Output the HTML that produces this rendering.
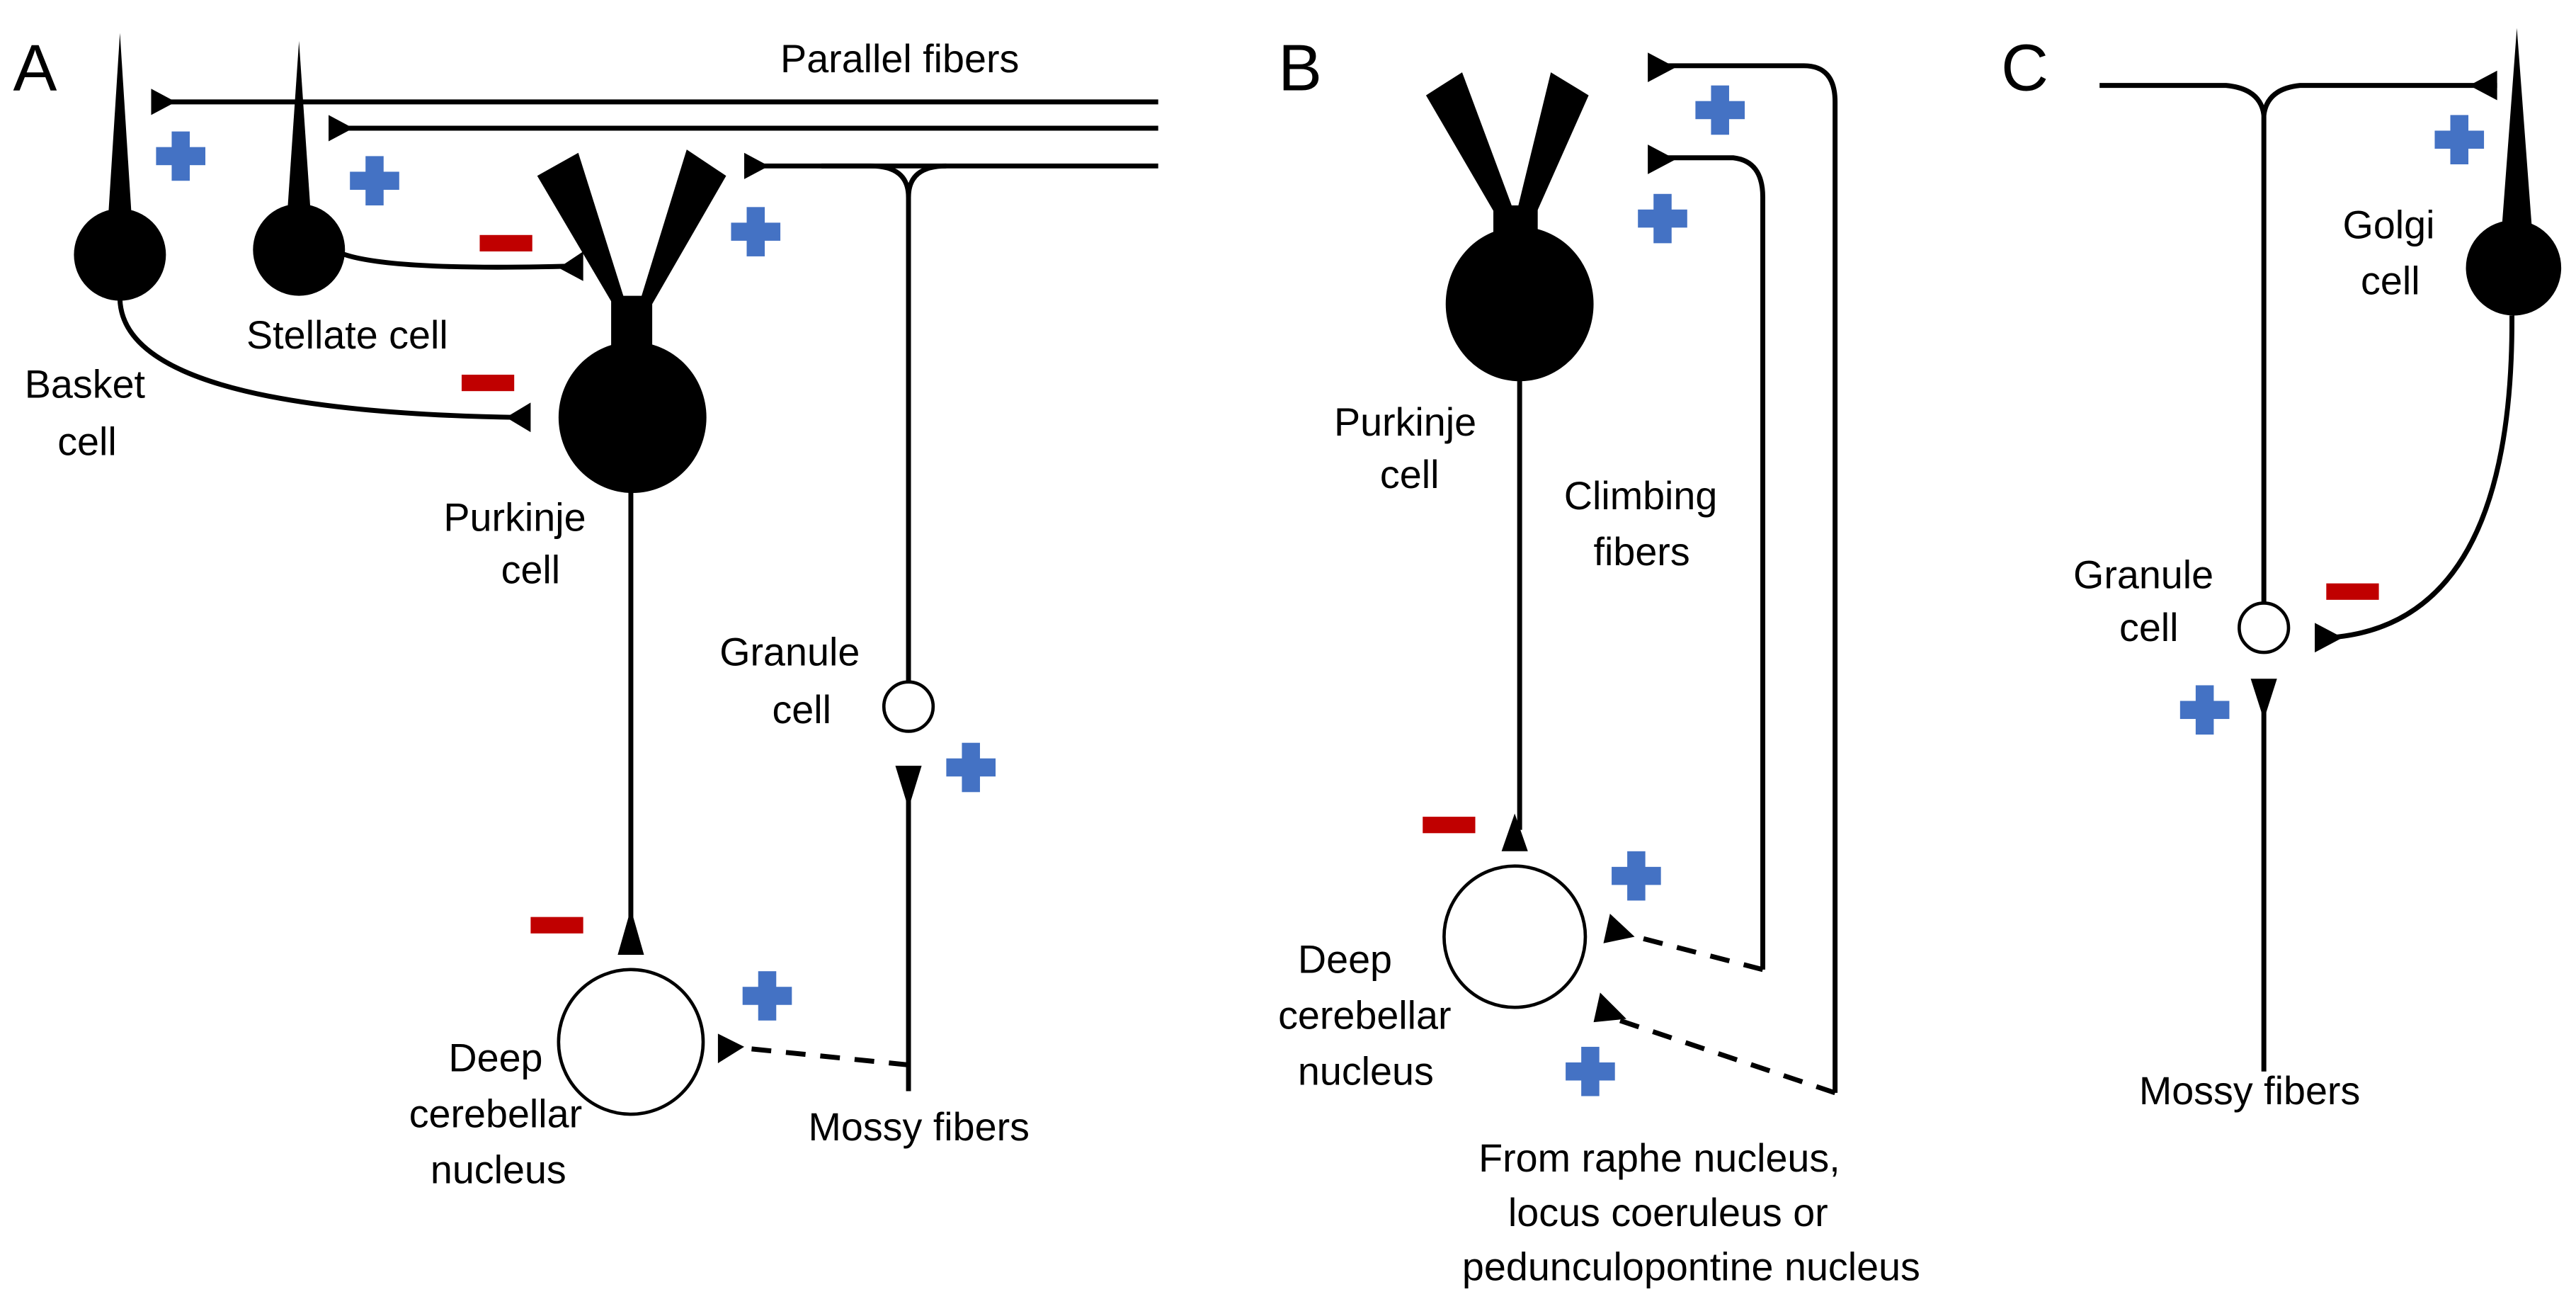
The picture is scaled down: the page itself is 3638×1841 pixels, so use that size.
<!DOCTYPE html>
<html><head><meta charset="utf-8"><style>
html,body{margin:0;padding:0;background:#fff;}
svg{display:block;}
text{font-family:"Liberation Sans",Arial,sans-serif;font-size:24px;fill:#000;}
.big{font-size:40px;}
</style></head><body>
<svg width="3638" height="1841" viewBox="0 0 1568 793.5" preserveAspectRatio="none" xmlns="http://www.w3.org/2000/svg">
<defs>
<g id="plus"><rect x="-15" y="-5.5" width="30" height="11" fill="#4472C4"/><rect x="-5.5" y="-15" width="11" height="30" fill="#4472C4"/></g>
<g id="minus"><rect x="-16" y="-5" width="32" height="10" fill="#C00000"/></g>
</defs>
<g fill="none" stroke="#000" stroke-width="3">
<!-- Panel A -->
<line x1="100" y1="62" x2="705" y2="62"/>
<line x1="208" y1="78" x2="705" y2="78"/>
<line x1="460" y1="101" x2="705" y2="101"/>
<path d="M500 101 H530 Q553 101 553 120 Q553 101 576 101"/>
<line x1="553" y1="118" x2="553" y2="415"/>
<path d="M205 153 Q230 165 345 162"/>
<path d="M73 182 Q75 250 315 254"/>
<line x1="384" y1="295" x2="384" y2="560"/>
<circle cx="384" cy="634" r="44" stroke-width="2"/>
<circle cx="553" cy="430" r="15" stroke-width="2"/>
<line x1="553" y1="475" x2="553" y2="664"/>
<path d="M553 648 L445 637" stroke-dasharray="12,9"/>
<!-- Panel B -->
<path d="M1010 40 H1098 Q1117 40 1117 62 V665"/>
<path d="M1010 96 H1055 Q1073 98 1073 120 V590"/>
<line x1="925" y1="225" x2="925" y2="505"/>
<circle cx="922" cy="570" r="43" stroke-width="2"/>
<path d="M1073 590 L988 568" stroke-dasharray="12,9"/>
<path d="M1117 665 L983 620" stroke-dasharray="12,9"/>
<!-- Panel C -->
<path d="M1278 52 H1355 Q1376 54 1378 70 Q1380 54 1400 52 H1520"/>
<line x1="1378" y1="68" x2="1378" y2="367"/>
<circle cx="1378" cy="382" r="15" stroke-width="2"/>
<path d="M1529 192 Q1530 380 1418 388"/>
<line x1="1378" y1="420" x2="1378" y2="652"/>
</g>
<g fill="#000">
<polygon points="73,20 66,130 80,130"/>
<circle cx="73" cy="155" r="28"/>
<polygon points="182,25 175,128 189,128"/>
<circle cx="182" cy="152" r="28"/>
<polygon points="327,107 352,93 381,185 373,185"/>
<polygon points="418,91 442,107 397,185 389,185"/>
<rect x="372" y="180" width="25" height="35"/>
<ellipse cx="385" cy="254" rx="45" ry="46"/>
<polygon points="92,54 92,70 107,62"/>
<polygon points="200,70 200,86 215,78"/>
<polygon points="453,93 453,109 468,101"/>
<polygon points="355,153 355,171 340,163"/>
<polygon points="323,245 323,263 308,254"/>
<polygon points="376,581 392,581 384,553"/>
<polygon points="545,466 561,466 553,492"/>
<polygon points="437,629 437,647 453,637"/>
<polygon points="868,58 890,44 922,130 910,130"/>
<polygon points="944,44 967,58 935,130 923,130"/>
<rect x="909" y="125" width="27" height="45"/>
<ellipse cx="925" cy="185" rx="45" ry="47"/>
<polygon points="1003,32 1003,50 1020,41"/>
<polygon points="1003,88 1003,106 1020,97"/>
<polygon points="914,518 930,518 922,495"/>
<polygon points="980,556 976,574 995,570"/>
<polygon points="974,604 970,622 990,620"/>
<polygon points="1532,17 1522,150 1542,150"/>
<circle cx="1530" cy="163" r="29"/>
<polygon points="1520,43 1520,61 1503,52"/>
<polygon points="1409,379 1409,397 1426,388"/>
<polygon points="1370,413 1386,413 1378,438"/>
</g>
<use href="#plus" x="110" y="95"/>
<use href="#plus" x="228" y="110"/>
<use href="#plus" x="460" y="141"/>
<use href="#plus" x="591" y="467"/>
<use href="#plus" x="467" y="606"/>
<use href="#minus" x="308" y="148"/>
<use href="#minus" x="297" y="233"/>
<use href="#minus" x="339" y="563"/>
<use href="#plus" x="1047" y="67"/>
<use href="#plus" x="1012" y="133"/>
<use href="#plus" x="996" y="533"/>
<use href="#plus" x="968" y="652"/>
<use href="#minus" x="882" y="502"/>
<use href="#plus" x="1497" y="85"/>
<use href="#plus" x="1342" y="432"/>
<use href="#minus" x="1432" y="360"/>
<text class="big" x="8" y="55">A</text>
<text class="big" x="778" y="55">B</text>
<text class="big" x="1218" y="55">C</text>
<text x="475" y="44">Parallel fibers</text>
<text x="150" y="212">Stellate cell</text>
<text x="15" y="242">Basket</text>
<text x="35" y="277">cell</text>
<text x="270" y="323">Purkinje</text>
<text x="305" y="355">cell</text>
<text x="438" y="405">Granule</text>
<text x="470" y="440">cell</text>
<text x="273" y="652">Deep</text>
<text x="249" y="686">cerebellar</text>
<text x="262" y="720">nucleus</text>
<text x="492" y="694">Mossy fibers</text>
<text x="812" y="265">Purkinje</text>
<text x="840" y="297">cell</text>
<text x="952" y="310">Climbing</text>
<text x="970" y="344">fibers</text>
<text x="790" y="592">Deep</text>
<text x="778" y="626">cerebellar</text>
<text x="790" y="660">nucleus</text>
<text x="900" y="713">From raphe nucleus,</text>
<text x="918" y="746">locus coeruleus or</text>
<text x="890" y="779">pedunculopontine nucleus</text>
<text x="1426" y="145">Golgi</text>
<text x="1437" y="179">cell</text>
<text x="1262" y="358">Granule</text>
<text x="1290" y="390">cell</text>
<text x="1302" y="672">Mossy fibers</text>
</svg>
</body></html>
